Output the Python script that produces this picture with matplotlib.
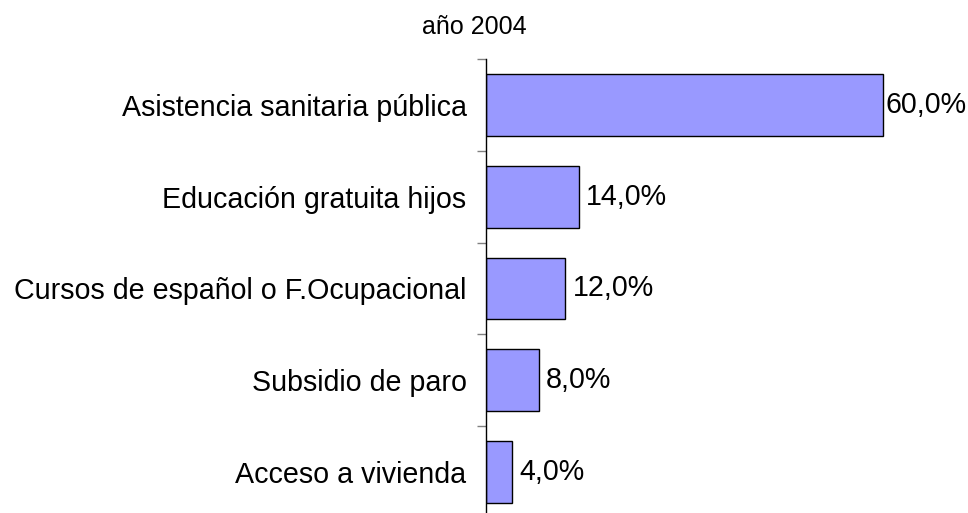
import numpy as np
import matplotlib.pyplot as plt
from matplotlib.ticker import FixedLocator

# Data
categorias = ['Asistencia sanitaria pública', 'Educación gratuita hijos',
              'Cursos de español o F.Ocupacional', 'Subsidio de paro',
              'Acceso a vivienda']
porcentajes = [60.0, 14.0, 12.0, 8.0, 4.0]
titulo = 'año 2004'

plt.rcParams['font.family'] = ['Liberation Sans', 'DejaVu Sans']

W, H = 968, 513
fig = plt.figure(figsize=(W / 100, H / 100), dpi=100)
# axes placed in pixel terms: left edge at x=486, top at y=59, bottom just below figure
left, top, bottom, right = 486, 59, 518, 949.5
ax = fig.add_axes([left / W, (H - bottom) / H, (right - left) / W, (bottom - top) / H])

y = np.arange(len(categorias))
ax.barh(y, porcentajes, height=0.675, color='#9999FF', edgecolor='black', linewidth=1.0)

ax.set_xlim(0, 70)
ax.set_ylim(len(categorias) - 0.5, -0.5)

for i, v in enumerate(porcentajes):
    off = 2 if v > 50 else 7
    ax.annotate(f'{v:.1f}'.replace('.', ',') + '%', (v, i), xytext=(off, 0),
                textcoords='offset pixels', va='center', ha='left', fontsize=20.6)

# spines / ticks
for s in ['top', 'right', 'bottom']:
    ax.spines[s].set_visible(False)
ax.spines['left'].set_linewidth(1.0)
ax.set_xticks([])
ax.set_yticks(y)
ax.set_yticklabels(categorias, fontsize=20.6)
ax.tick_params(axis='y', which='major', length=0, pad=14)
ax.yaxis.set_minor_locator(FixedLocator(np.arange(len(categorias) + 1) - 0.5))
ax.tick_params(axis='y', which='minor', length=6.5, width=1.0, color='#808080', direction='out')

fig.text(474 / W, 1 - 27 / H, titulo, ha='center', va='center', fontsize=18)

fig.savefig('out.png', dpi=100)
